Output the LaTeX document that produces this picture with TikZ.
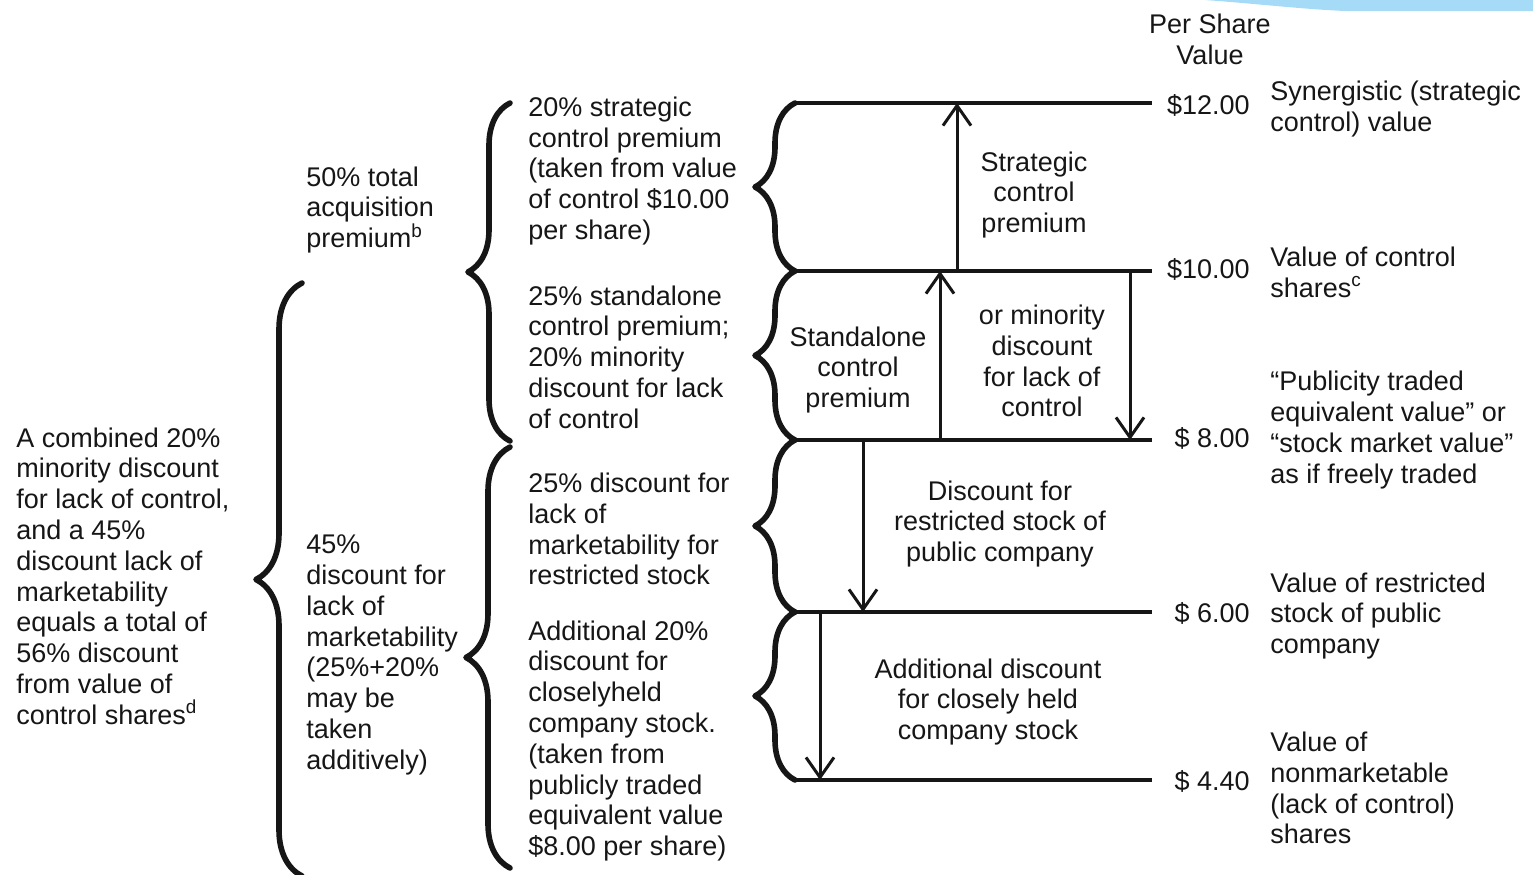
\documentclass[tikz,border=0pt]{standalone}
\usepackage{fontspec}
\setmainfont{Liberation Sans}
\usepackage{xcolor}
\usetikzlibrary{arrows.meta,positioning,decorations.pathreplacing}
\definecolor{InkDark}{HTML}{161616}
\definecolor{SwooshBlue}{HTML}{A6DBF8}
\tikzset{
  txtleft/.style={align=left,inner sep=0pt,font=\fontsize{13.5}{15.4}\selectfont,text=InkDark},
  txtmid/.style={align=center,inner sep=0pt,font=\fontsize{13.5}{15.4}\selectfont,text=InkDark},
  levelline/.style={line width=1.6pt,draw=InkDark},
  valarrow/.style={-{Straight Barb[length=10pt,width=14pt]},line width=1.5pt,draw=InkDark},
  bigbrace/.style={decorate,decoration={brace,amplitude=#1},line width=2.8pt,draw=InkDark,line join=round,line cap=round}
}

\begin{document}
\begin{tikzpicture}[x=0.5pt,y=-0.5pt]
\useasboundingbox (0,0) rectangle (1533,874);
\fill[SwooshBlue] (1205,0) .. controls (1260,4) and (1300,9) .. (1345,11) -- (1533,11) -- (1533,0) -- cycle;
% value levels
\coordinate (p12) at (795,103);
\coordinate (p10) at (795,271);
\coordinate (p8) at (795,440);
\coordinate (p6) at (795,612);
\coordinate (p4) at (795,780);
\coordinate (q12) at (1152,103);
\coordinate (q10) at (1152,271);
\coordinate (q8) at (1152,440);
\coordinate (q6) at (1152,612);
\coordinate (q4) at (1152,780);
\foreach \v in {12,10,8,6,4} \draw[levelline] (p\v) -- (q\v);
% braces
\draw[bigbrace=20pt] (p10) -- (p12);
\draw[bigbrace=20pt] (p8) -- (p10);
\draw[bigbrace=20pt] (p6) -- (p8);
\draw[bigbrace=20pt] (p4) -- (p6);
\coordinate (m1) at (510,103);
\coordinate (m2) at (510,441);
\coordinate (m3) at (510,447);
\coordinate (m4) at (510,868);
\draw[bigbrace=21pt] (m2) -- (m1);
\draw[bigbrace=22pt] (m4) -- (m3);
\coordinate (l1) at (302,283);
\coordinate (l2) at (302,876);
\draw[bigbrace=23pt] (l2) -- (l1);
% arrows
\coordinate (aS) at (957,0);
\coordinate (aA) at (940,0);
\coordinate (aM) at (1130,0);
\coordinate (aR) at (863,0);
\coordinate (aC) at (820,0);
\draw[valarrow] (aS |- p10) -- (aS |- p12);
\draw[valarrow] (aA |- p8) -- (aA |- p10);
\draw[valarrow] (aM |- p10) -- (aM |- p8);
\draw[valarrow] (aR |- p8) -- (aR |- p6);
\draw[valarrow] (aC |- p6) -- (aC |- p4);
% labels inside
\node[txtmid] (strat) at (1034,195) {Strategic\\control\\premium};
\node[txtmid] (stand) at (858,370) {Standalone\\control\\premium};
\node[txtmid] (minor) at (1042,361) {or minority\\discount\\for lack of\\control};
\node[txtmid] (restr) at (1000,524) {Discount for\\restricted stock of\\public company};
\node[txtmid] (close) at (988,702) {Additional discount\\for closely held\\company stock};
% middle column
\node[txtleft,anchor=west] (c1) at (528,171) {20\% strategic\\control premium\\(taken from value\\of control \$10.00\\per share)};
\node[txtleft,anchor=west] (c2) at (528,357) {25\% standalone\\control premium;\\20\% minority\\discount for lack\\of control};
\node[txtleft,anchor=west] (c3) at (528,529) {25\% discount for\\lack of\\marketability for\\restricted stock};
\node[txtleft,anchor=west] (c4) at (528,741) {Additional 20\%\\discount for\\closelyheld\\company stock.\\(taken from\\publicly traded\\equivalent value\\\$8.00 per share)};
% left columns
\node[txtleft,anchor=west] (acq) at (306,210) {50\% total\\acquisition\\premium\textsuperscript{b}};
\node[txtleft,anchor=west] (mkt) at (306,655) {45\%\\discount for\\lack of\\marketability\\(25\%+20\%\\may be\\taken\\additively)};
\node[txtleft,anchor=west] (comb) at (16,576) {A combined 20\%\\minority discount\\for lack of control,\\and a 45\%\\discount lack of\\marketability\\equals a total of\\56\% discount\\from value of\\control shares\textsuperscript{d}};
% value column
\node[txtmid] (head) at (1210,39) {Per Share\\Value};
\node[txtleft,anchor=east] (v12) at (1250,105) {\$12.00};
\node[txtleft,anchor=east] (v10) at (1250,269) {\$10.00};
\node[txtleft,anchor=east] (v8) at (1250,438) {\$ 8.00};
\node[txtleft,anchor=east] (v6) at (1250,613) {\$ 6.00};
\node[txtleft,anchor=east] (v4) at (1250,781) {\$ 4.40};
\node[txtleft,anchor=west] (d12) at (1270,109) {Synergistic (strategic\\control) value};
\node[txtleft,anchor=west] (d10) at (1270,272) {Value of control\\shares\textsuperscript{c}};
\node[txtleft,anchor=west] (d8) at (1270,430) {``Publicity traded\\equivalent value'' or\\``stock market value''\\as if freely traded};
\node[txtleft,anchor=west] (d6) at (1270,616) {Value of restricted\\stock of public\\company};
\node[txtleft,anchor=west] (d4) at (1270,788) {Value of\\nonmarketable\\(lack of control)\\shares};
\end{tikzpicture}
\end{document}
